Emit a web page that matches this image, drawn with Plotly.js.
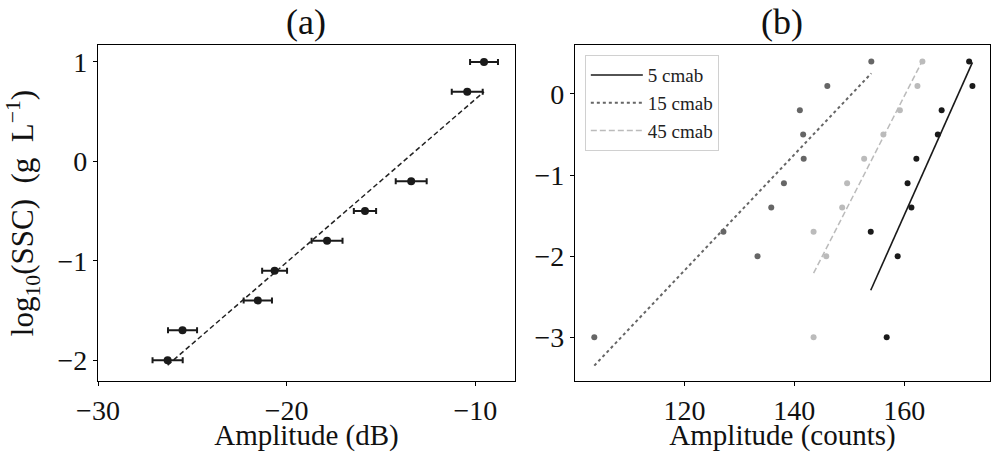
<!DOCTYPE html>
<html>
<head>
<meta charset="utf-8">
<script src="https://cdn.plot.ly/plotly-3.0.1.min.js"></script>
<style>html,body{margin:0;padding:0;background:#fff;}#plot{width:998px;height:452px;}</style>
</head>
<body>
<div id="plot"></div>
<script>
// Panel (a): amplitude in dB vs log10(SSC)
const ampDB = [-26.31, -25.52, -21.53, -20.64, -17.86, -15.85, -13.40, -10.43, -9.54];
const logSSC_a = [-2.0, -1.7, -1.4, -1.1, -0.8, -0.5, -0.2, 0.7, 1.0];
const ampDBErr = [0.8, 0.77, 0.75, 0.66, 0.82, 0.59, 0.82, 0.82, 0.74];
const fitA_x = [-26.31, -9.54];
const fitA_y = [-2.05, 0.70];

// Panel (b): amplitude in counts vs log10(SSC), three heights
const logSSC_b = [-3.0, -2.0, -1.7, -1.4, -1.1, -0.8, -0.5, -0.2, 0.1, 0.4];
const counts5 = [156.8, 158.8, 153.9, 161.3, 160.6, 162.2, 166.1, 166.8, 172.4, 171.8];
const counts15 = [103.6, 133.3, 127.1, 135.8, 138.1, 141.7, 141.6, 141.0, 146.0, 154.0];
const counts45 = [143.5, 145.8, 143.5, 148.7, 149.6, 152.7, 156.2, 159.2, 162.4, 163.3];
const fit5_x = [153.9, 172.4], fit5_y = [-2.42, 0.39];
const fit15_x = [103.6, 154.0], fit15_y = [-3.35, 0.255];
const fit45_x = [143.5, 163.3], fit45_y = [-2.21, 0.41];
const seriesNames = ['5 cmab', '15 cmab', '45 cmab'];

// Axis ticks
const xTicksA = [-30, -20, -10];
const yTicksA = [-2, -1, 0, 1];
const xTicksB = [120, 140, 160];
const yTicksB = [-3, -2, -1, 0];

const FONT = 'Liberation Serif, DejaVu Serif, serif';
const c5 = '#1a1a1a', c15 = '#666666', c45 = '#bbbbbb';

const traces = [
  {x: fitA_x, y: fitA_y, mode: 'lines', line: {color: '#222', width: 1.5, dash: '5px,3px'}, showlegend: false, xaxis: 'x', yaxis: 'y'},
  {x: ampDB, y: logSSC_a, mode: 'markers', marker: {color: '#1a1a1a', size: 8},
   error_x: {type: 'data', array: ampDBErr, visible: true, color: '#1a1a1a', thickness: 2, width: 3},
   showlegend: false, xaxis: 'x', yaxis: 'y'},
  {x: fit5_x, y: fit5_y, mode: 'lines', name: seriesNames[0], line: {color: c5, width: 1.6}, xaxis: 'x2', yaxis: 'y2'},
  {x: fit15_x, y: fit15_y, mode: 'lines', name: seriesNames[1], line: {color: c15, width: 2, dash: 'dot'}, xaxis: 'x2', yaxis: 'y2'},
  {x: fit45_x, y: fit45_y, mode: 'lines', name: seriesNames[2], line: {color: c45, width: 1.5, dash: '6px,3px'}, xaxis: 'x2', yaxis: 'y2'},
  {x: counts5, y: logSSC_b, mode: 'markers', marker: {color: c5, size: 6}, showlegend: false, xaxis: 'x2', yaxis: 'y2'},
  {x: counts15, y: logSSC_b, mode: 'markers', marker: {color: c15, size: 6}, showlegend: false, xaxis: 'x2', yaxis: 'y2'},
  {x: counts45, y: logSSC_b, mode: 'markers', marker: {color: c45, size: 6}, showlegend: false, xaxis: 'x2', yaxis: 'y2'}
];

const axBase = {
  showgrid: false, zeroline: false, showline: true, mirror: true, linecolor: '#000', linewidth: 1.2,
  ticks: 'outside', ticklen: 4, tickcolor: '#000', tickwidth: 1,
  tickfont: {family: FONT, size: 28, color: '#111'}
};

const layout = {
  width: 998, height: 452,
  margin: {l: 0, r: 0, t: 0, b: 0},
  paper_bgcolor: '#fff', plot_bgcolor: '#fff',
  font: {family: FONT, color: '#111'},
  xaxis: Object.assign({}, axBase, {domain: [0.0982, 0.516], range: [-30, -7.9], tickvals: xTicksA, anchor: 'y',
    title: {text: 'Amplitude (dB)', font: {family: FONT, size: 29}, standoff: 5}}),
  yaxis: Object.assign({}, axBase, {domain: [0.157, 0.9004], range: [-2.21, 1.17], tickvals: yTicksA, anchor: 'x',
    title: {text: 'log<sub>10</sub>(SSC)\u2002(g\u2002L<sup>−1</sup>)', font: {family: FONT, size: 31}, standoff: 14}}),
  xaxis2: Object.assign({}, axBase, {domain: [0.5762, 0.992], range: [100.1, 175.6], tickvals: xTicksB, anchor: 'y2',
    title: {text: 'Amplitude (counts)', font: {family: FONT, size: 29}, standoff: 5}}),
  yaxis2: Object.assign({}, axBase, {domain: [0.157, 0.9004], range: [-3.54, 0.604], tickvals: yTicksB, anchor: 'x2'}),
  showlegend: true,
  legend: {x: 0.586, y: 0.878, xanchor: 'left', yanchor: 'top', bgcolor: 'rgba(255,255,255,0.9)', bordercolor: '#d0d0d0', borderwidth: 1,
    font: {family: FONT, size: 19, color: '#222'}, itemwidth: 52, tracegroupgap: 0},
  annotations: [
    {text: '(a)', xref: 'paper', yref: 'paper', x: 0.307, y: (452 - 22) / 452, xanchor: 'center', yanchor: 'middle', showarrow: false, font: {family: FONT, size: 36, color: '#111'}},
    {text: '(b)', xref: 'paper', yref: 'paper', x: 0.784, y: (452 - 22) / 452, xanchor: 'center', yanchor: 'middle', showarrow: false, font: {family: FONT, size: 36, color: '#111'}}
  ]
};

Plotly.newPlot('plot', traces, layout, {displayModeBar: false, staticPlot: true});
</script>
</body>
</html>
